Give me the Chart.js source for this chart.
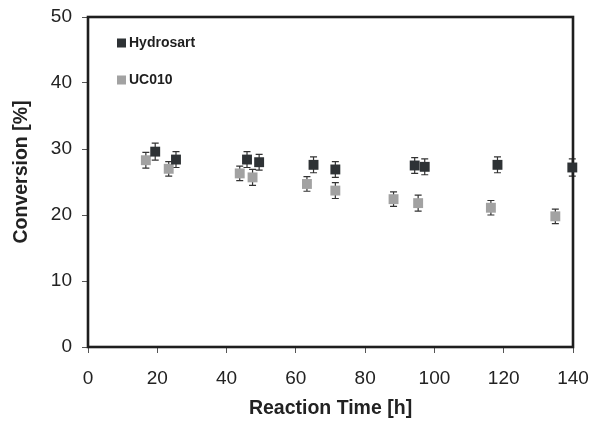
<!DOCTYPE html>
<html>
<head>
<meta charset="utf-8">
<script src="https://cdn.jsdelivr.net/npm/chart.js@4/dist/chart.umd.min.js"></script>
<style>
  html, body { margin: 0; padding: 0; background: #fff; }
  #wrap { width: 592px; height: 425px; }
</style>
</head>
<body>
<div id="wrap"><canvas id="chart1"></canvas></div>
<script>
// reaction time [h] and conversion [%]
const hydroTime = [19.4, 25.4, 45.9, 49.4, 65.1, 71.4, 94.3, 97.2, 118.2, 139.8];
const hydroConv = [29.6, 28.4, 28.4, 28.0, 27.6, 26.9, 27.5, 27.3, 27.6, 27.2];
const hydroErr  = [1.3, 1.2, 1.2, 1.2, 1.2, 1.2, 1.2, 1.2, 1.2, 1.3];

const ucTime = [16.7, 23.3, 43.8, 47.5, 63.2, 71.4, 88.2, 95.3, 116.3, 134.9];
const ucConv = [28.3, 27.0, 26.3, 25.7, 24.7, 23.7, 22.4, 21.8, 21.1, 19.8];
const ucErr  = [1.2, 1.1, 1.1, 1.2, 1.1, 1.2, 1.1, 1.2, 1.1, 1.1];

const xTicks = [0, 20, 40, 60, 80, 100, 120, 140];
const yTicks = [0, 10, 20, 30, 40, 50];

const FONT = '"Liberation Sans", Arial, sans-serif';
const yTitle = 'Conversion [%]';

const toPts = (xs, ys, es) => xs.map((x, i) => ({ x, y: ys[i], e: es[i] }));

// whiskers drawn through the scales, under the markers
const errorBars = {
  id: 'errorBars',
  beforeDatasetsDraw(chart) {
    const { ctx, scales: { x, y } } = chart;
    ctx.save();
    ctx.strokeStyle = '#333';
    ctx.lineWidth = 1.2;
    chart.data.datasets.forEach(ds => {
      ds.data.forEach(p => {
        const px = x.getPixelForValue(p.x);
        const top = y.getPixelForValue(p.y + p.e);
        const bot = y.getPixelForValue(p.y - p.e);
        ctx.beginPath();
        ctx.moveTo(px, top); ctx.lineTo(px, bot);
        ctx.moveTo(px - 3.5, top); ctx.lineTo(px + 3.5, top);
        ctx.moveTo(px - 3.5, bot); ctx.lineTo(px + 3.5, bot);
        ctx.stroke();
      });
    });
    ctx.restore();
  }
};

// box around plot, y title, legend inside top-left
const frame = {
  id: 'frame',
  beforeDatasetsDraw(chart) {
    const { ctx, chartArea: a } = chart;
    ctx.save();
    ctx.strokeStyle = '#1e1e1e';
    ctx.lineWidth = 2.6;
    ctx.strokeRect(a.left, a.top, a.right - a.left, a.bottom - a.top);
    ctx.restore();
  },
  afterDraw(chart) {
    const { ctx, chartArea: a } = chart;
    ctx.save();
    // y title sits a bit above the middle in the original
    ctx.save();
    ctx.translate(22, (a.top + a.bottom) / 2 - 10);
    ctx.rotate(-Math.PI / 2);
    ctx.font = 'bold 19.5px ' + FONT;
    ctx.fillStyle = '#222';
    ctx.textAlign = 'center';
    ctx.textBaseline = 'middle';
    ctx.fillText(yTitle, 0, 0);
    ctx.restore();

    ctx.font = 'bold 14px ' + FONT;
    ctx.textBaseline = 'middle';
    chart.data.datasets.forEach((ds, i) => {
      const yy = a.top + 26 + i * 37;
      ctx.fillStyle = ds.backgroundColor;
      ctx.fillRect(a.left + 29, yy - 4.5, 9, 9);
      ctx.fillStyle = '#1e1e1e';
      ctx.fillText(ds.label, a.left + 41, yy + 0.5);
    });
    ctx.restore();
  }
};

const ctx = document.getElementById('chart1').getContext('2d');
const chart = new Chart(ctx, {
  type: 'scatter',
  data: {
    datasets: [
      { label: 'Hydrosart', data: toPts(hydroTime, hydroConv, hydroErr), clip: false,
        backgroundColor: '#2e3235', borderColor: '#2e3235',
        pointStyle: 'rect', pointRadius: 7, pointHoverRadius: 7, borderWidth: 0 },
      { label: 'UC010', data: toPts(ucTime, ucConv, ucErr), clip: false,
        backgroundColor: '#a2a2a2', borderColor: '#a2a2a2',
        pointStyle: 'rect', pointRadius: 7, pointHoverRadius: 7, borderWidth: 0 }
    ]
  },
  options: {
    responsive: true,
    maintainAspectRatio: false,
    animation: false,
    layout: { padding: { top: 17, right: 19, left: 0, bottom: 0 } },
    plugins: { legend: { display: false }, tooltip: { enabled: false } },
    scales: {
      x: {
        type: 'linear', min: 0, max: 140,
        afterBuildTicks: s => { s.ticks = xTicks.map(v => ({ value: v })); },
        afterFit: s => { s.height = 78; s.paddingLeft = 0; s.paddingRight = 0; },
        grid: { display: true, drawOnChartArea: false, drawTicks: true, tickLength: 6, color: '#555', lineWidth: 1 },
        border: { display: false },
        ticks: { color: '#222', font: { family: FONT, size: 19 }, padding: 14, maxRotation: 0 },
        title: { display: true, text: 'Reaction Time [h]', color: '#222',
                 font: { family: FONT, size: 19.5, weight: 'bold' }, padding: { top: 0, bottom: 5 } }
      },
      y: {
        type: 'linear', min: 0, max: 50,
        afterBuildTicks: s => { s.ticks = yTicks.map(v => ({ value: v })); },
        afterFit: s => { s.width = 88; s.paddingTop = 0; s.paddingBottom = 0; },
        grid: { display: true, drawOnChartArea: false, drawTicks: true, tickLength: 6, color: '#555', lineWidth: 1 },
        border: { display: false },
        ticks: { color: '#222', font: { family: FONT, size: 19 }, padding: 10 }
      }
    }
  },
  plugins: [errorBars, frame]
});
</script>
</body>
</html>
